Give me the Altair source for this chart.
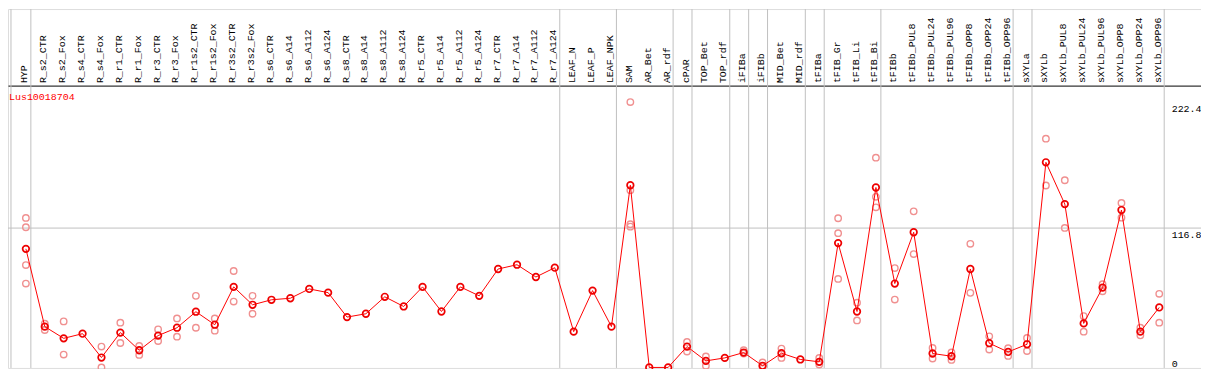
import altair as alt
import pandas as pd

gene_id = "Lus10018704"

categories = [
    "HYP", "R_s2_CTR", "R_s2_Fox", "R_s4_CTR", "R_s4_Fox", "R_r1_CTR", "R_r1_Fox",
    "R_r3_CTR", "R_r3_Fox", "R_r1s2_CTR", "R_r1s2_Fox", "R_r3s2_CTR", "R_r3s2_Fox",
    "R_s6_CTR", "R_s6_A14", "R_s6_A112", "R_s6_A124", "R_s8_CTR", "R_s8_A14",
    "R_s8_A112", "R_s8_A124", "R_r5_CTR", "R_r5_A14", "R_r5_A112", "R_r5_A124",
    "R_r7_CTR", "R_r7_A14", "R_r7_A112", "R_r7_A124", "LEAF_N", "LEAF_P", "LEAF_NPK",
    "SAM", "AR_Bet", "AR_rdf", "cPAR", "TOP_Bet", "TOP_rdf", "iFIBa", "iFIBb",
    "MID_Bet", "MID_rdf", "tFIBa", "tFIB_Gr", "tFIB_Li", "tFIB_Bi", "tFIBb",
    "tFIBb_PUL8", "tFIBb_PUL24", "tFIBb_PUL96", "tFIBb_OPP8", "tFIBb_OPP24",
    "tFIBb_OPP96", "sXYLa", "sXYLb", "sXYLb_PUL8", "sXYLb_PUL24", "sXYLb_PUL96",
    "sXYLb_OPP8", "sXYLb_OPP24", "sXYLb_OPP96",
]

mean_values = [
    99.4, 34.2, 24.4, 28.3, 8.3, 29.2, 14.4, 26.7, 33.3, 46.7, 35.8, 67.5, 52.5,
    56.7, 58.0, 65.8, 62.7, 42.2, 45.0, 59.2, 51.1, 67.5, 46.9, 67.5, 60.0,
    82.5, 86.1, 75.8, 83.6, 30.0, 64.4, 34.2,
    152.7, 0.0, 0.0, 17.5, 5.5, 8.0, 12.5, 1.4, 11.9, 6.7, 4.7, 104.2, 46.9,
    150.8, 70.3, 113.3, 11.7, 9.4, 82.5, 20.3, 13.0, 19.4, 171.9, 136.9, 36.9,
    66.9, 131.9, 30.0, 50.3,
]

rep_categories = [
    "HYP", "HYP", "HYP", "HYP",
    "R_s2_CTR", "R_s2_CTR", "R_s2_Fox", "R_s2_Fox", "R_s4_Fox", "R_s4_Fox",
    "R_r1_CTR", "R_r1_CTR", "R_r1_Fox", "R_r1_Fox", "R_r3_CTR", "R_r3_CTR",
    "R_r3_Fox", "R_r3_Fox", "R_r1s2_CTR", "R_r1s2_CTR", "R_r1s2_Fox", "R_r1s2_Fox",
    "R_r3s2_CTR", "R_r3s2_CTR", "R_r3s2_Fox", "R_r3s2_Fox",
    "SAM", "SAM", "SAM", "SAM",
    "cPAR", "cPAR", "TOP_Bet", "TOP_Bet", "iFIBa", "iFIBa", "iFIBb", "iFIBb",
    "MID_Bet", "MID_Bet", "tFIBa", "tFIBa",
    "tFIB_Gr", "tFIB_Gr", "tFIB_Gr", "tFIB_Li", "tFIB_Li",
    "tFIB_Bi", "tFIB_Bi", "tFIB_Bi", "tFIBb", "tFIBb",
    "tFIBb_PUL8", "tFIBb_PUL8", "tFIBb_PUL24", "tFIBb_PUL24",
    "tFIBb_PUL96", "tFIBb_PUL96", "tFIBb_OPP8", "tFIBb_OPP8",
    "tFIBb_OPP24", "tFIBb_OPP24", "tFIBb_OPP96", "tFIBb_OPP96",
    "sXYLa", "sXYLa", "sXYLb", "sXYLb", "sXYLb_PUL8", "sXYLb_PUL8",
    "sXYLb_PUL24", "sXYLb_PUL24", "sXYLb_PUL96", "sXYLb_PUL96",
    "sXYLb_OPP8", "sXYLb_OPP8", "sXYLb_OPP24", "sXYLb_OPP24",
    "sXYLb_OPP96", "sXYLb_OPP96",
]
rep_values = [
    125.3, 117.5, 85.8, 70.3,
    36.7, 31.3, 38.6, 10.8, 17.5, 0.0,
    37.5, 20.5, 18.0, 10.5, 31.9, 22.2,
    41.1, 25.8, 60.0, 33.3, 41.1, 30.8,
    80.8, 55.2, 60.0, 45.0,
    222.4, 148.6, 120.0, 118.0,
    21.4, 13.3, 9.2, 1.4, 14.4, 11.7, 4.2, 0.5,
    15.8, 8.0, 8.0, 2.5,
    125.0, 112.5, 74.2, 54.2, 39.4,
    175.8, 143.0, 134.2, 83.3, 56.9,
    130.8, 95.0, 16.3, 7.5,
    12.5, 6.3, 103.6, 62.5,
    26.1, 15.0, 16.1, 9.7,
    24.7, 13.8, 191.7, 152.5, 156.9, 116.9,
    43.0, 30.0, 69.7, 63.8,
    137.8, 125.5, 33.3, 26.9,
    61.7, 37.5,
]

group_ends = ["HYP", "R_r7_A124", "LEAF_NPK", "AR_rdf", "cPAR", "TOP_rdf", "iFIBa",
              "iFIBb", "MID_rdf", "tFIBa", "tFIB_Bi", "tFIBb_OPP96", "sXYLa",
              "sXYLb_OPP96"]
left_edge = ["HYP"]

y_ticks = [0, 116.8, 222.4]
mid_line = [116.8]

FONT = "Liberation Mono"
W, H = 1200, 361
STEP = 19.0
X0 = 18.0  # pixel position of the first category inside the view

idx = {c: i for i, c in enumerate(categories)}
df_mean = pd.DataFrame({"i": list(range(len(categories))), "cat": categories, "val": mean_values})
df_rep = pd.DataFrame({"i": [idx[c] for c in rep_categories], "cat": rep_categories, "val": rep_values})
df_sep = pd.DataFrame({"i": [idx[c] for c in group_ends]})
df_left = pd.DataFrame({"i": [idx[c] for c in left_edge]})
df_mid = pd.DataFrame({"val": mid_line})

x_d0 = -X0 / STEP
x_scale = alt.Scale(domain=[x_d0, x_d0 + W / STEP], nice=False, zero=False)
y_k = 1.2003
y_d0 = -0.5 / y_k
y_scale = alt.Scale(domain=[y_d0, y_d0 + H / y_k], nice=False, zero=False)

label_array = "[" + ",".join("'" + c + "'" for c in categories) + "]"

x_axis = alt.Axis(
    orient="top", offset=-77, values=list(range(len(categories))),
    labelExpr=label_array + "[datum.value]",
    labelAngle=270, labelAlign="left", labelBaseline="middle",
    labelPadding=3, labelOffset=-2, labelFont=FONT, labelFontSize=10, labelColor="black",
    labelOverlap=False, labelLimit=0, labelFlush=False, ticks=False, grid=False, domain=True,
    domainColor="black", domainWidth=1, title=None,
)
y_axis = alt.Axis(
    orient="right", offset=-30, values=y_ticks, labelPadding=0, labelAlign="left",
    labelExpr="datum.value == 0 ? '0' : format(datum.value, '.1f')",
    labelBaseline={"condition": {"test": "datum.value == 0", "value": "bottom"}, "value": "top"},
    labelOffset=1, labelFlush=False,
    labelFont=FONT, labelFontSize=10, labelColor="black", ticks=False, grid=False,
    domain=False, title=None,
)

X = lambda: alt.X("i:Q", scale=x_scale, axis=x_axis)
Y = lambda: alt.Y("val:Q", scale=y_scale, axis=y_axis)

seps = alt.Chart(df_sep).mark_rule(color="#c0c0c0", strokeWidth=1, xOffset=5).encode(x=X())
left = alt.Chart(df_left).mark_rule(color="#c0c0c0", strokeWidth=1, xOffset=-15).encode(x=X())
hline = alt.Chart(df_mid).mark_rule(color="#c0c0c0", strokeWidth=1).encode(y=Y())
reps = alt.Chart(df_rep).mark_point(
    shape="circle", filled=False, color="#f09090", size=42, strokeWidth=1.4, opacity=1
).encode(x=X(), y=Y())
line = alt.Chart(df_mean).mark_line(color="#ff0000", strokeWidth=1).encode(x=X(), y=Y())
means = alt.Chart(df_mean).mark_point(
    shape="circle", filled=False, color="#ee0000", size=44, strokeWidth=1.7, opacity=1
).encode(x=X(), y=Y())
title = alt.Chart(pd.DataFrame({"t": [gene_id]})).mark_text(
    align="left", baseline="middle", font=FONT, fontSize=10, color="#ff0000"
).encode(x=alt.value(1), y=alt.value(88.5), text="t:N")

chart = alt.layer(left, seps, hline, reps, line, means, title).properties(
    width=W, height=H, padding=0, autosize=alt.AutoSizeParams(type="none"),
).configure_view(stroke="black", strokeWidth=1).configure(background="white")

chart.save("out.html", embed_options={"renderer": "svg", "actions": False})
